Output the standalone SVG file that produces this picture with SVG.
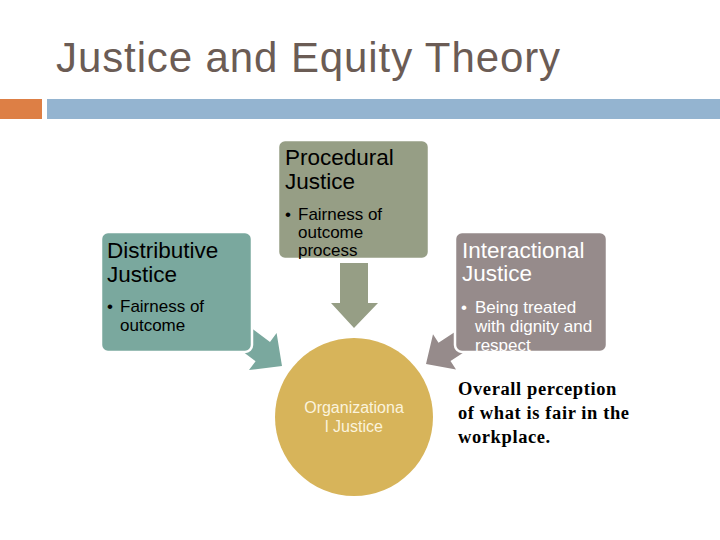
<svg xmlns="http://www.w3.org/2000/svg" width="720" height="540" viewBox="0 0 720 540">
  <style>
    .title { font-family: "Liberation Sans", Arial, sans-serif; font-size: 42px; fill: #6B5C55; letter-spacing: 0.9px; }
    .hdr { font-family: "Liberation Sans", Arial, sans-serif; font-size: 22.5px; }
    .bul { font-family: "Liberation Sans", Arial, sans-serif; font-size: 17px; }
    .dark { fill: #000000; }
    .light { fill: #FFFFFF; }
    .box { stroke: #FFFFFF; stroke-width: 2.5; }
    .center { font-family: "Liberation Sans", Arial, sans-serif; font-size: 16px; fill: #FBF3DC; text-anchor: middle; }
    .note { font-family: "Liberation Serif", "Times New Roman", serif; font-size: 18.5px; font-weight: bold; fill: #000000; letter-spacing: 0.6px; }
  </style>
  <defs>
    <clipPath id="clipProc"><rect x="278" y="140" width="151" height="119"/></clipPath>
    <clipPath id="clipDist"><rect x="101" y="232" width="151" height="120"/></clipPath>
    <clipPath id="clipInter"><rect x="455" y="232" width="152" height="120"/></clipPath>
  </defs>
  <rect width="720" height="540" fill="#FFFFFF"/>

  <text class="title" x="56" y="72">Justice and Equity Theory</text>
  <rect x="0" y="99" width="42" height="20" fill="#DD7F45"/>
  <rect x="47" y="99" width="673" height="20" fill="#94B4D0"/>

  <g id="connectors">
    <polygon points="238,318 270,342 276.6,333 282,366 249,370 255.6,361.2 223.6,337.2" fill="#7AA89E"/>
    <polygon points="340,263 368,263 368,303 378,303 354,328 331,303 340,303" fill="#969E85"/>
    <polygon points="472,320.8 438.5,342.7 433,334.3 426,364 456,369.5 450.5,361.1 484,339.2" fill="#968B8B"/>
  </g>

  <g id="distributive">
    <rect class="box" x="101" y="232" width="151" height="120" rx="7" fill="#7AA89E"/>
    <g clip-path="url(#clipDist)">
      <text class="hdr dark" x="107" y="258">Distributive</text>
      <text class="hdr dark" x="107" y="282">Justice</text>
      <text class="bul dark" x="107" y="312">•</text>
      <text class="bul dark" x="120" y="312">Fairness of</text>
      <text class="bul dark" x="120" y="331">outcome</text>
    </g>
  </g>

  <g id="procedural">
    <rect class="box" x="278" y="140" width="151" height="119" rx="7" fill="#969E85"/>
    <g clip-path="url(#clipProc)">
      <text class="hdr dark" x="285" y="165">Procedural</text>
      <text class="hdr dark" x="285" y="189">Justice</text>
      <text class="bul dark" x="285" y="220">•</text>
      <text class="bul dark" x="298" y="220">Fairness of</text>
      <text class="bul dark" x="298" y="238">outcome</text>
      <text class="bul dark" x="298" y="256">process</text>
    </g>
  </g>

  <g id="interactional">
    <rect class="box" x="455" y="232" width="152" height="120" rx="7" fill="#968B8B"/>
    <g clip-path="url(#clipInter)">
      <text class="hdr light" x="462" y="258">Interactional</text>
      <text class="hdr light" x="462" y="281">Justice</text>
      <text class="bul light" x="461" y="313">•</text>
      <text class="bul light" x="475" y="313">Being treated</text>
      <text class="bul light" x="475" y="332">with dignity and</text>
      <text class="bul light" x="475" y="351">respect</text>
    </g>
  </g>

  <g id="organizational">
    <circle cx="354" cy="417" r="79" fill="#D7B45A"/>
    <text class="center" x="354" y="413">Organizationa</text>
    <text class="center" x="354" y="432">l Justice</text>
  </g>

  <g id="note">
    <text class="note" x="458" y="395">Overall perception</text>
    <text class="note" x="458" y="419">of what is fair in the</text>
    <text class="note" x="458" y="443">workplace.</text>
  </g>
</svg>
